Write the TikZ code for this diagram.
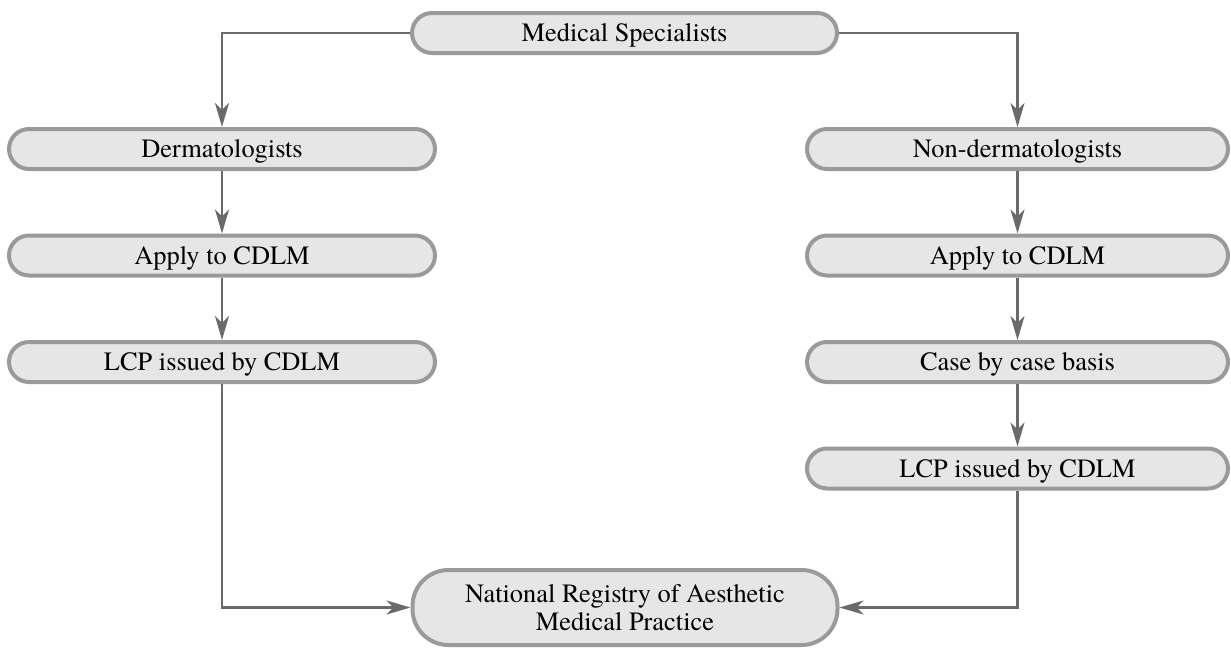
\documentclass[tikz,border=0pt]{standalone}
\usepackage{fontspec}
\IfFontExistsTF{texgyretermes-regular.otf}
  {\setmainfont{texgyretermes-regular.otf}}
  {\setmainfont{Liberation Serif}}
\usetikzlibrary
  {
    positioning,
    arrows.meta,
  }
\definecolor{boxfill}{HTML}{E6E6E6}
\definecolor{boxline}{HTML}{9A9A9A}
\definecolor{flowline}{HTML}{6A6A6A}
\tikzset
  {
    >={Stealth[length=12pt, width=7pt, inset=3.5pt]},
    flow/.style=
      {
        ->,
        draw=flowline,
        line width=1.2pt,
      },
    stage/.style=
      {
        draw=boxline,
        fill=boxfill,
        line width=2pt,
        rounded corners=10pt,
        rectangle,
        inner sep=0pt,
        minimum width=213pt,
        minimum height=20pt,
        text height=9.5pt,
        text depth=1pt,
        align=center,
        font=\fontsize{13.2}{14.2}\selectfont,
      },
    right stage/.style={stage, minimum width=210.5pt},
  }

\begin{document}
\begin{tikzpicture}
  \useasboundingbox (0,0) rectangle (615.5pt,-324pt);

  \node[stage, minimum width=212.5pt] at (312.25pt,-16.5pt) (spec) {Medical Specialists};

  \begin{scope}[node distance=31.25pt, every node/.style={stage}]
    \node at (111pt,-74.5pt) (derm) {Dermatologists};
    \node[below=of derm] (apply left) {Apply to CDLM};
    \node[below=of apply left] (lcp left) {LCP issued by CDLM};
  \end{scope}

  \begin{scope}[node distance=31.25pt, every node/.style={right stage}]
    \node at (508.75pt,-74.5pt) (nonderm) {Non-dermatologists};
    \node[below=of nonderm] (apply right) {Apply to CDLM};
    \node[below=of apply right] (case) {Case by case basis};
    \node[below=of case] (lcp right) {LCP issued by CDLM};
  \end{scope}

  \node
    [
      stage,
      minimum width=212.5pt,
      minimum height=37.5pt,
      rounded corners=18pt,
      text height=,
      text depth=,
    ]
    at (312.5pt,-303.75pt) (registry) {National Registry of Aesthetic\\Medical Practice};

  \draw[flow] (spec.west) -| (derm);
  \draw[flow] (spec.east) -| (nonderm);

  \draw[flow] (derm) -- (apply left);
  \draw[flow] (apply left) -- (lcp left);

  \draw[flow] (nonderm) -- (apply right);
  \draw[flow] (apply right) -- (case);
  \draw[flow] (case) -- (lcp right);

  \draw[flow] (lcp left) |- (registry);
  \draw[flow] (lcp right) |- (registry);
\end{tikzpicture}
\end{document}
